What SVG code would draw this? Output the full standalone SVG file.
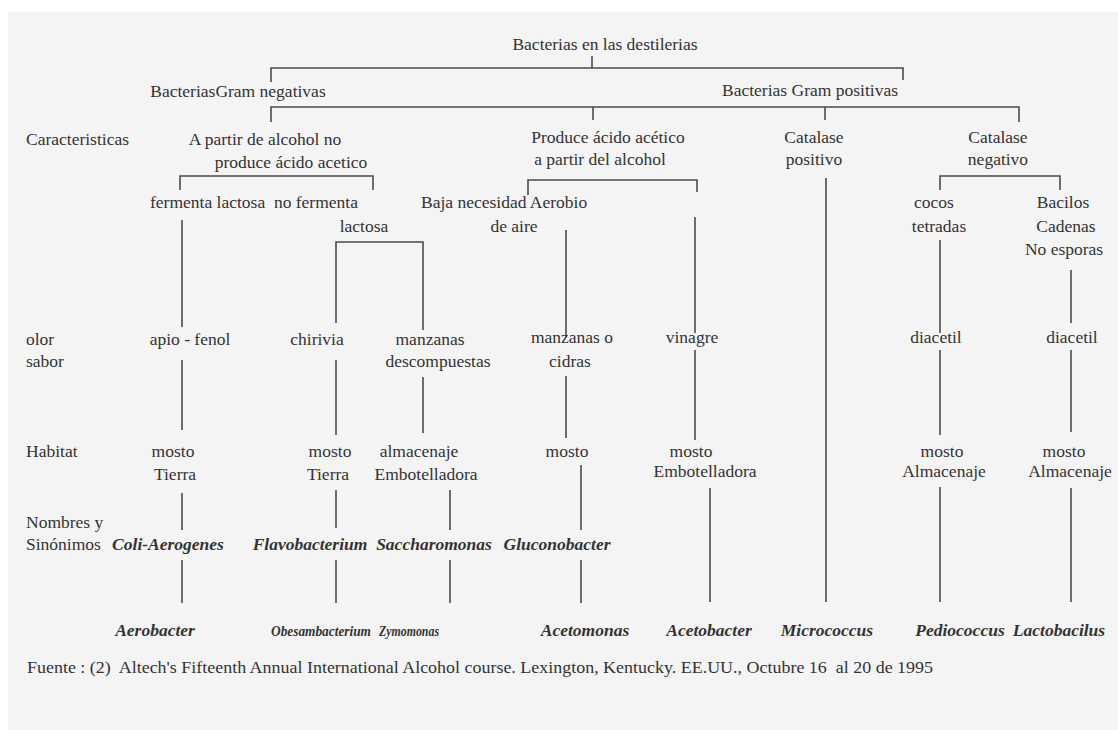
<svg xmlns="http://www.w3.org/2000/svg" width="1118" height="730" viewBox="0 0 1118 730">
<style>
text{font-family:"Liberation Serif","Times New Roman",serif;font-size:17.5px;fill:#333;white-space:pre}
.c{text-anchor:middle}
.i{font-style:italic;font-weight:bold}
.s{font-size:14.5px}
.ln{fill:none;stroke:#4a4a4a;stroke-width:1.6}
</style>
<rect x="0" y="0" width="1118" height="730" fill="#ffffff"/>
<rect x="8" y="12" width="1110" height="718" fill="#f4f4f4"/>
<g id="connectors" class="ln">
<path d="M592,56V68"/>
<path d="M271,82V68H903V80"/>
<path d="M271,122V107H1019V122M593,107V120M825,107V120"/>
<path d="M180,190V176H373V190"/>
<path d="M528,195V180H697V192"/>
<path d="M940,190V176H1060V190"/>
<path d="M826,178V602"/>
<path d="M182,220V327M182,360V430M182,493V530M182,560V603"/>
<path d="M336,323V242H423V330"/>
<path d="M336,360V435M336,490V528M336,560V603"/>
<path d="M423,377V433M450,490V530M450,560V603"/>
<path d="M566,230V337M566,376V438M581,465V530M581,560V603"/>
<path d="M695,217V333M695,350V440M710,488V602"/>
<path d="M940,240V333M940,350V435M940,487V602"/>
<path d="M1071,270V323M1071,350V432M1071,488V602"/>
</g>
<g id="row-labels">
<text x="26" y="145">Caracteristicas</text>
<text x="26" y="345">olor</text>
<text x="26" y="367">sabor</text>
<text x="26" y="457">Habitat</text>
<text x="26" y="528">Nombres y</text>
<text x="26" y="550">Sinónimos</text>
</g>
<g id="root"><text class="c" x="605" y="50">Bacterias en las destilerias</text></g>
<g id="gram-neg"><text class="c" x="238" y="97">BacteriasGram negativas</text></g>
<g id="gram-pos"><text class="c" x="810" y="96">Bacterias Gram positivas</text></g>
<g id="no-acetico"><text class="c" x="265" y="145">A partir de alcohol no</text><text class="c" x="291" y="168">produce ácido acetico</text></g>
<g id="acetico"><text class="c" x="608" y="143">Produce ácido acético</text><text class="c" x="600" y="165">a partir del alcohol</text></g>
<g id="cat-pos"><text class="c" x="814" y="143">Catalase</text><text class="c" x="814" y="165">positivo</text></g>
<g id="cat-neg"><text class="c" x="998" y="143">Catalase</text><text class="c" x="998" y="165">negativo</text></g>
<g id="fermenta"><text x="150" y="208">fermenta lactosa  no fermenta</text><text class="c" x="364" y="232">lactosa</text></g>
<g id="aire"><text x="421" y="208">Baja necesidad Aerobio</text><text class="c" x="514" y="232">de aire</text></g>
<g id="cocos"><text class="c" x="934" y="208">cocos</text><text class="c" x="939" y="232">tetradas</text></g>
<g id="bacilos"><text class="c" x="1063" y="208">Bacilos</text><text class="c" x="1066" y="232">Cadenas</text><text class="c" x="1064" y="255">No esporas</text></g>
<g id="olor1"><text class="c" x="190" y="345">apio - fenol</text></g>
<g id="olor2"><text class="c" x="317" y="345">chirivia</text></g>
<g id="olor3"><text class="c" x="430" y="345">manzanas</text><text class="c" x="438" y="367">descompuestas</text></g>
<g id="olor4"><text class="c" x="572" y="343">manzanas o</text><text class="c" x="570" y="367">cidras</text></g>
<g id="olor5"><text class="c" x="692" y="343">vinagre</text></g>
<g id="olor6"><text class="c" x="936" y="343">diacetil</text></g>
<g id="olor7"><text class="c" x="1072" y="343">diacetil</text></g>
<g id="hab1"><text class="c" x="173" y="457">mosto</text><text class="c" x="175" y="480">Tierra</text></g>
<g id="hab2"><text class="c" x="330" y="457">mosto</text><text class="c" x="328" y="480">Tierra</text></g>
<g id="hab3"><text class="c" x="419" y="457">almacenaje</text><text class="c" x="426" y="480">Embotelladora</text></g>
<g id="hab4"><text class="c" x="567" y="457">mosto</text></g>
<g id="hab5"><text class="c" x="691" y="457">mosto</text><text class="c" x="705" y="477">Embotelladora</text></g>
<g id="hab6"><text class="c" x="942" y="457">mosto</text><text class="c" x="944" y="477">Almacenaje</text></g>
<g id="hab7"><text class="c" x="1064" y="457">mosto</text><text class="c" x="1070" y="477">Almacenaje</text></g>
<g id="syn1"><text class="c i" x="168" y="550">Coli-Aerogenes</text></g>
<g id="syn2"><text class="c i" x="310" y="550">Flavobacterium</text></g>
<g id="syn3"><text class="c i" x="434" y="550">Saccharomonas</text></g>
<g id="syn4"><text class="c i" x="557" y="550">Gluconobacter</text></g>
<g id="gen1"><text class="c i" x="155" y="636">Aerobacter</text></g>
<g id="gen2"><text class="i s" x="271" y="636" textLength="100" lengthAdjust="spacingAndGlyphs">Obesambacterium</text></g>
<g id="gen3"><text class="i s" x="379" y="636" textLength="60" lengthAdjust="spacingAndGlyphs">Zymomonas</text></g>
<g id="gen4"><text class="c i" x="585" y="636">Acetomonas</text></g>
<g id="gen5"><text class="c i" x="709" y="636">Acetobacter</text></g>
<g id="gen6"><text class="c i" x="827" y="636">Micrococcus</text></g>
<g id="gen7"><text class="c i" x="960" y="636">Pediococcus</text></g>
<g id="gen8"><text class="c i" x="1059" y="636">Lactobacilus</text></g>
<g id="source"><text x="27" y="673" textLength="906" lengthAdjust="spacingAndGlyphs">Fuente : (2)  Altech's Fifteenth Annual International Alcohol course. Lexington, Kentucky. EE.UU., Octubre 16  al 20 de 1995</text></g>
</svg>
